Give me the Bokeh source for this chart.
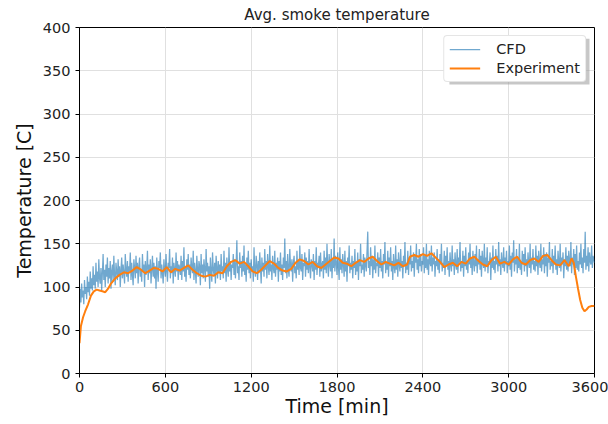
from bokeh.plotting import figure
from bokeh.models import Range1d, FixedTicker, Legend, LegendItem, BoxAnnotation
from bokeh.embed import file_html
from bokeh.resources import INLINE

cfd_step = 5
cfd_temp = [
    76, 98, 82, 104, 88, 96, 80, 108, 92, 100, 86, 112, 94, 106, 90, 118, 98, 110, 96, 124,
    102, 114, 98, 128, 106, 118, 100, 132, 110, 104, 122, 96, 116, 138, 108, 120, 100, 126, 112, 134,
    104, 122, 110, 130, 98, 118, 126, 106, 136, 114, 102, 128, 118, 108, 132, 112, 124, 100, 120, 134,
    110, 126, 116, 104, 138, 120, 112, 130, 106, 124, 118, 140, 108, 128, 114, 102, 132, 122, 110, 136,
    116, 128, 104, 124, 134, 112, 120, 106, 138, 118, 126, 100, 130, 114, 122, 142, 108, 126, 116, 132,
    104, 120, 136, 112, 128, 110, 124, 98, 134, 118, 106, 130, 122, 140, 110, 126, 116, 104, 132, 120,
    112, 138, 118, 106, 128, 122, 144, 110, 124, 116, 134, 104, 128, 120, 112, 140, 118, 130, 108, 126,
    122, 114, 136, 108, 130, 118, 146, 112, 124, 106, 132, 120, 138, 114, 126, 110, 134, 122, 116, 142,
    108, 128, 118, 104, 136, 120, 112, 130, 124, 102, 138, 116, 126, 110, 132, 120, 106, 144, 118, 128,
    112, 124, 98, 134, 118, 106, 140, 120, 114, 128, 104, 136, 122, 110, 130, 116, 126, 108, 138, 118,
    124, 110, 142, 116, 128, 106, 134, 120, 112, 146, 118, 130, 108, 126, 122, 138, 114, 132, 110, 128,
    154, 116, 124, 108, 140, 122, 130, 112, 136, 118, 148, 114, 126, 106, 134, 120, 142, 116, 128, 110,
    132, 118, 124, 106, 146, 120, 112, 136, 126, 108, 130, 116, 140, 122, 104, 134, 118, 128, 112, 144,
    120, 130, 110, 138, 124, 114, 148, 118, 126, 108, 136, 122, 116, 142, 112, 128, 120, 134, 106, 130,
    118, 140, 114, 126, 108, 134, 122, 156, 116, 130, 110, 138, 120, 112, 144, 124, 118, 132, 106, 128,
    136, 116, 124, 110, 142, 120, 130, 114, 148, 122, 118, 138, 108, 128, 124, 140, 112, 134, 120, 130,
    116, 144, 122, 110, 132, 126, 118, 138, 108, 130, 120, 146, 114, 128, 124, 136, 112, 140, 118, 126,
    130, 110, 142, 120, 134, 116, 150, 124, 112, 138, 126, 118, 144, 110, 132, 122, 156, 118, 136, 128,
    114, 140, 124, 108, 146, 120, 132, 116, 138, 126, 112, 142, 118, 130, 106, 134, 124, 148, 116, 128,
    120, 136, 110, 130, 122, 144, 114, 128, 118, 140, 108, 132, 124, 150, 116, 126, 120, 138, 112, 134,
    126, 118, 142, 164, 122, 130, 114, 146, 124, 136, 110, 132, 120, 148, 116, 128, 124, 140, 112, 134,
    122, 144, 118, 130, 110, 138, 126, 152, 116, 128, 120, 142, 112, 134, 124, 146, 118, 130, 108, 138,
    124, 116, 148, 120, 132, 112, 140, 126, 118, 144, 122, 130, 110, 136, 124, 152, 116, 128, 120, 142,
    114, 134, 126, 148, 118, 130, 122, 140, 112, 136, 128, 150, 120, 132, 116, 144, 124, 138, 118, 130,
    126, 146, 116, 136, 122, 150, 120, 132, 114, 142, 128, 124, 148, 118, 134, 126, 140, 112, 130, 124,
    144, 120, 132, 116, 138, 126, 150, 118, 128, 122, 142, 114, 136, 124, 146, 120, 130, 112, 140, 126,
    118, 148, 124, 132, 114, 140, 126, 120, 144, 116, 134, 128, 152, 118, 130, 122, 142, 112, 136, 124,
    146, 120, 130, 116, 140, 126, 150, 122, 134, 114, 142, 128, 118, 138, 124, 148, 116, 132, 126, 144,
    120, 136, 112, 142, 128, 122, 150, 118, 134, 124, 146, 116, 130, 126, 140, 108, 134, 122, 148, 120,
    130, 116, 144, 126, 136, 118, 152, 124, 132, 114, 140, 128, 122, 146, 118, 134, 126, 142, 116, 130,
    124, 148, 120, 136, 112, 140, 128, 154, 118, 132, 126, 144, 116, 134, 122, 150, 120, 130, 114, 142,
    126, 138, 118, 146, 124, 132, 112, 140, 128, 122, 150, 116, 134, 126, 144, 120, 130, 118, 148, 124,
    136, 114, 142, 128, 122, 150, 118, 132, 126, 146, 116, 138, 124, 140, 112, 134, 128, 152, 120, 130,
    124, 144, 116, 136, 126, 148, 120, 132, 114, 142, 128, 122, 150, 118, 134, 126, 140, 110, 132, 124,
    146, 120, 136, 118, 142, 128, 124, 152, 116, 134, 126, 144, 114, 138, 122, 148, 120, 130, 118, 140,
    126, 150, 122, 134, 116, 144, 128, 164, 120, 136, 124, 146, 118, 140, 130, 126, 148, 122, 136, 132,
    128,
]
cfd_time = [i * cfd_step for i in range(len(cfd_temp))]

exp_time = [0, 10, 25, 40, 60, 80, 100, 120, 140, 160, 180, 200, 220, 250, 280, 310, 340, 370, 400,
            430, 460, 490, 520, 550, 580, 610, 640, 670, 700, 730, 760, 790, 820, 850, 880, 910, 940,
            970, 1000, 1030, 1060, 1090, 1120, 1150, 1180, 1210, 1240, 1270, 1300, 1330, 1360, 1390,
            1420, 1450, 1480, 1510, 1540, 1570, 1600, 1630, 1660, 1690, 1720, 1750, 1780, 1810, 1840,
            1870, 1900, 1930, 1960, 1990, 2020, 2050, 2080, 2110, 2140, 2170, 2200, 2230, 2260, 2290,
            2310, 2340, 2370, 2400, 2430, 2460, 2490, 2520, 2550, 2580, 2610, 2640, 2670, 2700, 2730,
            2760, 2790, 2820, 2850, 2880, 2910, 2940, 2970, 3000, 3030, 3060, 3090, 3120, 3150, 3180,
            3210, 3240, 3270, 3300, 3330, 3360, 3390, 3420, 3440, 3455, 3470, 3485, 3500, 3515, 3530,
            3545, 3560, 3580, 3600]
exp_temp = [35, 55, 65, 72, 80, 90, 95, 97, 96, 95, 94, 98, 104, 110, 114, 117, 116, 119, 123,
            120, 116, 119, 122, 121, 118, 123, 117, 121, 119, 122, 125, 120, 116, 113, 112, 114, 113,
            117, 116, 124, 129, 131, 127, 129, 124, 118, 116, 120, 125, 130, 127, 122,
            119, 118, 121, 128, 132, 130, 126, 129, 124, 122, 126, 130, 134, 133, 128,
            127, 124, 128, 131, 129, 133, 135, 130, 126, 129, 127, 125, 128, 124, 126,
            135, 137, 135, 138, 136, 139, 134, 129, 123, 126, 128, 124, 129, 127, 133,
            135, 130, 126, 124, 131, 135, 127, 129, 126, 132, 135, 128, 126, 131, 133,
            129, 136, 137, 131, 126, 125, 131, 124, 133, 128, 112, 98, 85, 76, 72,
            74, 77, 78, 78]

x_ticks = [0, 600, 1200, 1800, 2400, 3000, 3600]
y_ticks = [0, 50, 100, 150, 200, 250, 300, 350, 400]

FONT = "DejaVu Sans"

p = figure(width=608, height=424, output_backend="svg", toolbar_location=None,
           x_range=Range1d(0, 3600), y_range=Range1d(0, 400),
           min_border_left=79, min_border_right=14, min_border_top=27, min_border_bottom=51)

p.title.text = "Avg. smoke temperature"
p.title.align = "center"
p.title.text_font = FONT
p.title.text_font_size = "15px"
p.title.text_font_style = "normal"
p.title.text_color = "#222222"
p.title.standoff = 7

r_cfd = p.line(cfd_time, cfd_temp, line_color="#1f77b4", line_alpha=0.64, line_width=1.25)
r_exp = p.line(exp_time, exp_temp, line_color="#ff7f0e", line_width=2)

for ax in (p.xaxis[0], p.yaxis[0]):
    ax.major_label_text_font = FONT
    ax.major_label_text_font_size = "14.5px"
    ax.major_label_text_color = "#222222"
    ax.axis_label_text_font = FONT
    ax.axis_label_text_font_size = "19px"
    ax.axis_label_text_font_style = "normal"
    ax.axis_label_text_color = "#111111"
    ax.axis_line_color = "black"
    ax.major_tick_line_color = "black"
    ax.major_tick_out = 4
    ax.major_tick_in = 0
    ax.minor_tick_line_color = None

p.xaxis.ticker = FixedTicker(ticks=x_ticks)
p.yaxis.ticker = FixedTicker(ticks=y_ticks)
p.xaxis.axis_label = "Time [min]"
p.yaxis.axis_label = "Temperature [C]"
p.xaxis.axis_label_standoff = 0
p.yaxis.axis_label_standoff = 5
p.xaxis.major_label_standoff = 4
p.yaxis.major_label_standoff = 5

p.xgrid.grid_line_color = "#e0e0e0"
p.ygrid.grid_line_color = "#e0e0e0"
p.outline_line_color = "black"
p.outline_line_width = 1

shadow = BoxAnnotation(left=2586, right=3565, top=387, bottom=334,
                       fill_color="#999999", fill_alpha=0.55, line_color=None)
p.add_layout(shadow)

legend = Legend(items=[LegendItem(label="CFD", renderers=[r_cfd]),
                       LegendItem(label="Experiment", renderers=[r_exp])],
                location="top_right")
legend.label_text_font = FONT
legend.label_text_font_size = "14.5px"
legend.label_text_color = "#222222"
legend.border_line_color = "#cccccc"
legend.background_fill_alpha = 1.0
legend.glyph_width = 31
legend.glyph_height = 14
legend.spacing = 3
legend.padding = 5
legend.margin = 8
legend.label_standoff = 16
if "border_radius" in Legend.properties():
    legend.border_radius = 4
p.add_layout(legend)

open("out.html", "w").write(file_html(p, INLINE))
